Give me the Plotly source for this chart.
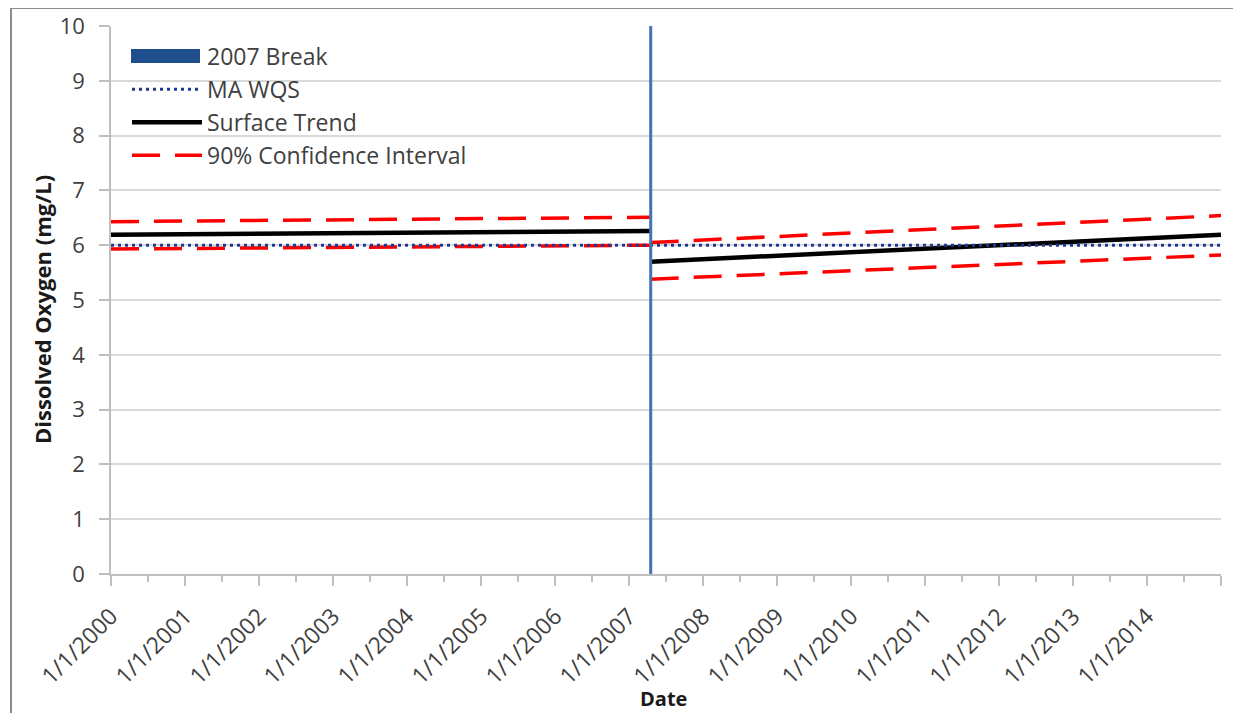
import plotly.graph_objects as go

# ---- data ----
break_date = "2007-04-18"
dates_pre = ["2000-01-01", "2007-04-18"]
dates_post = ["2007-04-18", "2015-01-01"]
trend_pre = [6.19, 6.26]
trend_post = [5.70, 6.19]
upper_pre = [6.43, 6.51]
upper_post = [6.05, 6.54]
lower_pre = [5.93, 6.00]
lower_post = [5.38, 5.82]
wqs_dates = ["2000-01-01", "2015-01-01"]
wqs_values = [6.0, 6.0]
break_y = [0, 10]
tick_years = list(range(2000, 2016))
tick_dates = [f"{y}-01-01" for y in tick_years]
tick_labels = [f"1/1/{y}" for y in tick_years[:-1]] + [""]
minor_dates = [f"{y}-07-01" for y in tick_years[:-1]]

FONT = "Open Sans"
TXT = "#404040"
AXC = "#BFBFBF"

# page body has an 8px margin -> work in screen pixels and convert
OFF = 8
W, H = 1241 - OFF, 713 - OFF
PL, PR, PT, PB = 111, 1221, 26, 574          # plot area in screen pixels
L, T = PL - OFF, PT - OFF
R, B = W - (PR - OFF), H - (PB - OFF)
pw, ph = PR - PL, PB - PT

def px_x(p):
    return (p - PL) / pw

def px_y(p):
    return (PB - p) / ph

fig = go.Figure()

ci_x = dates_pre + [None] + dates_post + [None] + dates_pre + [None] + dates_post
ci_y = upper_pre + [None] + upper_post + [None] + lower_pre + [None] + lower_post
fig.add_trace(go.Scatter(
    x=ci_x, y=ci_y, mode="lines", name="90% Confidence Interval",
    line=dict(color="#FF0000", width=3.5, dash="28px,15px"),
    connectgaps=False, legendrank=4))

fig.add_trace(go.Scatter(
    x=dates_pre + [None] + dates_post, y=trend_pre + [None] + trend_post,
    mode="lines", name="Surface Trend",
    line=dict(color="#000000", width=4.5), connectgaps=False, legendrank=3))

fig.add_trace(go.Scatter(
    x=wqs_dates, y=wqs_values, mode="lines", name="MA WQS",
    line=dict(color="#1F3A93", width=3, dash="3px,4px"), legendrank=2))

fig.add_trace(go.Scatter(
    x=[break_date, break_date], y=break_y, mode="lines",
    line=dict(color="#4473B4", width=3), showlegend=False, hoverinfo="skip"))
# legend entry for the break (its thick swatch is drawn as a shape below)
fig.add_trace(go.Scatter(
    x=[None], y=[None], mode="lines", name="2007 Break",
    line=dict(color="rgba(0,0,0,0)", width=1), legendrank=1))

fig.update_layout(
    width=W, height=H,
    margin=dict(l=L, r=R, t=T, b=B, pad=0, autoexpand=False),
    paper_bgcolor="white", plot_bgcolor="white",
    font=dict(family=FONT, size=22, color=TXT),
    showlegend=True,
    legend=dict(
        x=px_x(127), y=px_y(35), xanchor="left", yanchor="top",
        bgcolor="rgba(0,0,0,0)", borderwidth=0,
        font=dict(family=FONT, size=23, color=TXT),
        itemwidth=70, tracegroupgap=0, traceorder="normal",
    ),
    xaxis=dict(
        type="date", automargin=False,
        range=["2000-01-01", "2015-01-01"],
        tickmode="array", tickvals=tick_dates, ticktext=tick_labels,
        tickangle=-45,
        ticks="outside", ticklen=10, tickwidth=1.5, tickcolor=AXC,
        showline=True, linecolor=AXC, linewidth=1.5,
        showgrid=False, zeroline=False,
        ticklabelstandoff=8, ticklabelshift=0,
        tickfont=dict(family=FONT, size=23, color=TXT),
        minor=dict(tickmode="array", tickvals=minor_dates, ticks="outside",
                   ticklen=6, tickwidth=1.5, tickcolor=AXC, showgrid=False),
    ),
    yaxis=dict(
        range=[0, 10], tickmode="linear", tick0=0, dtick=1, automargin=False,
        ticks="outside", ticklen=10, tickwidth=1.5, tickcolor=AXC,
        showline=True, linecolor=AXC, linewidth=1.5,
        showgrid=True, gridcolor="#D9D9D9", gridwidth=1.5,
        zeroline=False, ticklabelstandoff=10,
        tickfont=dict(family=FONT, size=22, color=TXT),
    ),
    annotations=[
        dict(text="<b>Dissolved Oxygen (mg/L)</b>", textangle=-90,
             xref="paper", yref="paper", x=px_x(42), y=px_y(310),
             xanchor="center", yanchor="middle", showarrow=False,
             font=dict(family=FONT, size=22, color="#1A1A1A")),
        dict(text="<b>Date</b>",
             xref="paper", yref="paper", x=px_x(663), y=px_y(698),
             xanchor="center", yanchor="middle", showarrow=False,
             font=dict(family=FONT, size=20, color="#1A1A1A")),
    ],
    shapes=[
        # outer chart frame
        dict(type="rect", xref="paper", yref="paper",
             x0=px_x(11), y0=px_y(730), x1=px_x(1260), y1=px_y(8),
             line=dict(color="#8C8C8C", width=2), fillcolor="rgba(0,0,0,0)",
             layer="below"),
        # white legend background hiding the gridlines
        dict(type="rect", xref="paper", yref="paper",
             x0=px_x(122), y0=px_y(180), x1=px_x(478), y1=px_y(36),
             line=dict(width=0), fillcolor="white", layer="between"),
        # thick legend swatch for the 2007 Break
        dict(type="rect", xref="paper", yref="paper",
             x0=px_x(131), y0=px_y(63), x1=px_x(200), y1=px_y(49),
             line=dict(width=0), fillcolor="#1F4E8C", layer="above"),
    ],
)

fig.write_html("out.html")
